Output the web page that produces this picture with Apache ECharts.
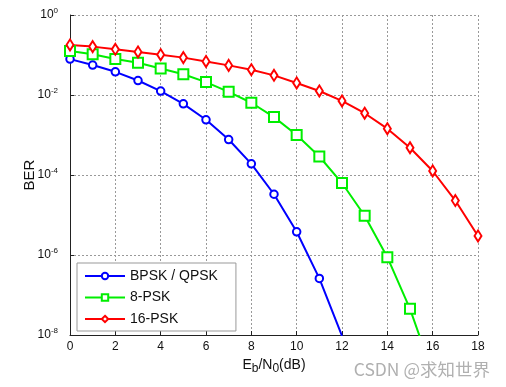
<!DOCTYPE html>
<html><head><meta charset="utf-8">
<script src="https://cdn.jsdelivr.net/npm/echarts@6/dist/echarts.min.js"></script>
<style>html,body{margin:0;padding:0;background:#fff}#c{width:506px;height:387px}</style>
</head><body><div id="c"></div>
<script>
const ebN0 = [0,1,2,3,4,5,6,7,8,9,10,11,12,13,14,15,16,17,18];
const seriesNames = ['BPSK / QPSK', '8-PSK', '16-PSK'];
const berBPSK = [0.079,0.056,0.038,0.023,0.0125,0.006,0.0024,0.00077,1.9e-4,3.3e-5,3.8e-6,2.6e-7,9.5e-9];
const ber8PSK = [0.126,0.104,0.079,0.064,0.046,0.033,0.021,0.012,0.0064,0.0028,1.0e-3,2.9e-4,6.3e-5,9.6e-6,8.8e-7,4.5e-8,1.1e-9];
const ber16PSK = [0.178,0.162,0.139,0.119,0.102,0.086,0.069,0.055,0.043,0.031,0.020,0.0126,0.0071,0.0035,0.00144,4.8e-4,1.26e-4,2.3e-5,3.0e-6];
const xTicks = [0,2,4,6,8,10,12,14,16,18];

const pairs = arr => arr.map((v, i) => [ebN0[i], v]);
const font = 'Liberation Sans, Arial, sans-serif';

const chart = echarts.init(document.getElementById('c'), null, {renderer: 'canvas'});
const mk = (name, data, color, symbol, size) => ({
  name, type: 'line', data: pairs(data), symbol, symbolSize: size,
  showAllSymbol: true, clip: true,
  lineStyle: {color, width: 2},
  itemStyle: {color, borderColor: color, borderWidth: 1.6},
  emphasis: {disabled: true}, animation: false
});
chart.setOption({
  animation: false,
  grid: {left: 70, right: 28, top: 15, bottom: 52},
  xAxis: {
    type: 'value', min: xTicks[0], max: xTicks[xTicks.length-1], interval: 2,
    axisLine: {onZero: false, lineStyle: {color: '#222', width: 1}},
    axisTick: {inside: true, length: 4, lineStyle: {color: '#222'}},
    axisLabel: {color: '#111', fontSize: 12, fontFamily: font, margin: 6},
    splitLine: {show: true, lineStyle: {color: '#999', type: [2, 2], width: 1}},
    name: '{n|E}{s|b}{n|/N}{s|0}{n|(dB)}', nameLocation: 'middle', nameGap: 20,
    nameMoveOverlap: false,
    nameTextStyle: {rich: {
      n: {fontSize: 14, fontFamily: font, color: '#111'},
      s: {fontSize: 12, fontFamily: font, color: '#111', padding: [8, 0, 0, 0]}
    }}
  },
  yAxis: {
    type: 'log', logBase: 10, min: 1e-8, max: 1, interval: 2,
    axisLine: {show: true, onZero: false, lineStyle: {color: '#222', width: 1}},
    axisTick: {show: true, inside: true, length: 4, lineStyle: {color: '#222'}},
    axisLabel: {
      fontFamily: font, margin: 12,
      formatter: v => '{b|10}{s|' + Math.round(Math.log10(v)) + '}',
      rich: {
        b: {fontSize: 12, fontFamily: font, color: '#111'},
        s: {fontSize: 8, fontFamily: font, color: '#111', padding: [0, 0, 8, 0]}
      }
    },
    minorTick: {show: false},
    splitLine: {show: true, lineStyle: {color: '#999', type: [2, 2], width: 1}},
    name: 'BER', nameLocation: 'middle', nameGap: 33,
    nameMoveOverlap: false,
    nameTextStyle: {fontSize: 15, fontFamily: font, color: '#111'}
  },
  legend: {
    orient: 'vertical', left: 77, top: 263,
    data: seriesNames,
    itemWidth: 40, itemHeight: 8, itemGap: 5.5,
    padding: [5, 18, 4, 7],
    backgroundColor: '#fff', borderColor: '#999', borderWidth: 1,
    textStyle: {fontSize: 14, fontFamily: font, color: '#111', lineHeight: 16},
    selectedMode: false
  },
  graphic: [{
    type: 'text', right: 16, bottom: 9,
    style: {text: 'CSDN @求知世界', fontSize: 17.5, fontFamily: 'Noto Sans CJK SC', fill: '#b0b0b0'}
  }],
  series: [
    mk(seriesNames[0], berBPSK, '#0000ff', 'emptyCircle', 7.5),
    mk(seriesNames[1], ber8PSK, '#00ee00', 'emptyRect', 10),
    mk(seriesNames[2], ber16PSK, '#ff0000', 'emptyDiamond', [7, 11])
  ]
});
</script></body></html>
